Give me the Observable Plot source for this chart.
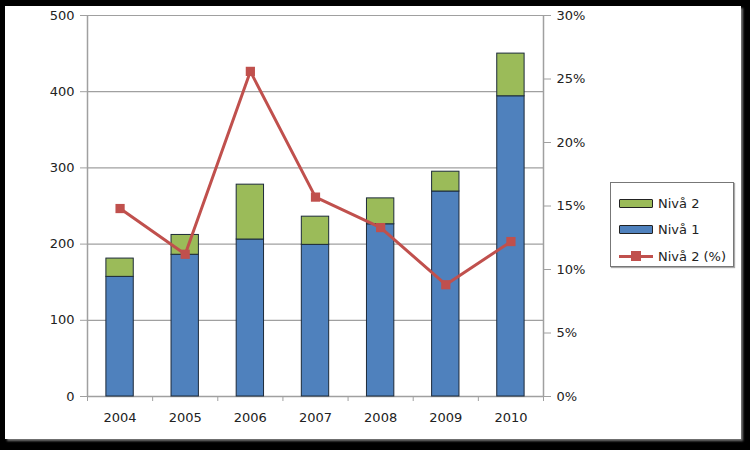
<!DOCTYPE html>
<html>
<head>
<meta charset="utf-8">
<script src="https://cdn.jsdelivr.net/npm/d3@7"></script>
<script src="https://cdn.jsdelivr.net/npm/@observablehq/plot@0.6"></script>
<style>
  html, body { margin: 0; padding: 0; background: #000; width: 750px; height: 450px; overflow: hidden; }
  #card { position: absolute; left: 5px; top: 6px; width: 736px; height: 433px; background: #fff;
          box-shadow: 2px 2px 2px #777; }
  #chart { position: absolute; left: 0; top: 0; }
  #legend { position: absolute; left: 605px; top: 176px; width: 122px; height: 83px;
            border: 1px solid #777; background: #fff; box-shadow: 1px 1px 1px #aaa;
            font: 13px Tahoma, "DejaVu Sans", sans-serif; color: #222; }
  .row { position: absolute; left: 8px; height: 14px; display: flex; align-items: center; }
  .sw { width: 32px; height: 7px; border: 1px solid #222; border-radius: 1px; margin-right: 5px; }
  .ln { width: 34px; height: 14px; position: relative; margin-right: 5px; }
  .ln::before { content: ""; position: absolute; left: 0; right: 0; top: 6px; height: 3px; background: #C0504D; }
  .ln::after { content: ""; position: absolute; left: 12px; top: 2px; width: 10px; height: 10px; background: #C0504D; }
</style>
</head>
<body>
<div id="card"><div id="chart"></div>
<div id="legend">
  <div class="row" style="top:13px"><div class="sw" style="background:#9BBB59"></div>Nivå 2</div>
  <div class="row" style="top:39px"><div class="sw" style="background:#4F81BD"></div>Nivå 1</div>
  <div class="row" style="top:66px"><div class="ln"></div>Nivå 2 (%)</div>
</div>
</div>
<script>
const years = ["2004", "2005", "2006", "2007", "2008", "2009", "2010"];
const niva1 = [157, 186, 206, 199, 226, 269, 394];
const niva2 = [24, 26, 72, 37, 34, 26, 56];
const niva2Pct = [0.148, 0.112, 0.256, 0.157, 0.133, 0.088, 0.122];
const leftTicks = [0, 100, 200, 300, 400, 500];
const rightTicks = [0, 0.05, 0.10, 0.15, 0.20, 0.25, 0.30];

const yMax = 500, pMax = 0.30;
const toY = p => p * yMax / pMax;
const half = 0.21;

const rows = years.map((y, i) => ({ year: y, i, n1: niva1[i], n2: niva2[i], pct: niva2Pct[i] }));

const chart = Plot.plot({
  width: 736,
  height: 433,
  marginLeft: 82,
  marginRight: 198,
  marginTop: 9,
  marginBottom: 43,
  style: { fontFamily: "Tahoma, 'DejaVu Sans', sans-serif", fontSize: "13px", color: "#222", background: "#fff", overflow: "visible" },
  x: { type: "linear", domain: [0, years.length] },
  y: { domain: [0, yMax] },
  marks: [
    Plot.ruleY(leftTicks.slice(1), { stroke: "#a0a0a0", strokeWidth: 1.2, strokeOpacity: 1 }),
    Plot.ruleX([0, years.length], { stroke: "#a0a0a0", strokeWidth: 1.5, strokeOpacity: 1 }),
    Plot.ruleY([0], { stroke: "#a0a0a0", strokeWidth: 1.5 }),
    Plot.axisY({ ticks: leftTicks, tickSize: 7, tickPadding: 6, stroke: "#a0a0a0", label: null, fill: "#222" }),
    Plot.axisY({ anchor: "right", ticks: rightTicks.map(toY), tickFormat: v => Math.round(v / yMax * pMax * 100) + "%", tickSize: 7, tickPadding: 6, stroke: "#a0a0a0", label: null, fill: "#222" }),
    Plot.axisX({ ticks: d3.range(0, years.length + 1), tickFormat: () => "", tickSize: 5, stroke: "#a0a0a0", label: null }),
    Plot.axisX({ ticks: years.map((y, i) => i + 0.5), tickFormat: v => years[Math.floor(v)], tickSize: 0, tickPadding: 16, label: null, fill: "#222" }),
    Plot.rectY(rows, { x1: d => d.i + 0.5 - half, x2: d => d.i + 0.5 + half, y1: 0, y2: d => d.n1, fill: "#4F81BD", stroke: "#1c2a3a", strokeWidth: 1 }),
    Plot.rectY(rows, { x1: d => d.i + 0.5 - half, x2: d => d.i + 0.5 + half, y1: d => d.n1, y2: d => d.n1 + d.n2, fill: "#9BBB59", stroke: "#1c2a3a", strokeWidth: 1 }),
    Plot.line(rows, { x: d => d.i + 0.5, y: d => toY(d.pct), stroke: "#C0504D", strokeWidth: 3 }),
    Plot.dot(rows, { x: d => d.i + 0.5, y: d => toY(d.pct), symbol: "square", r: 5.2, fill: "#C0504D", stroke: "none" })
  ]
});
document.getElementById("chart").appendChild(chart);
</script>
</body>
</html>
